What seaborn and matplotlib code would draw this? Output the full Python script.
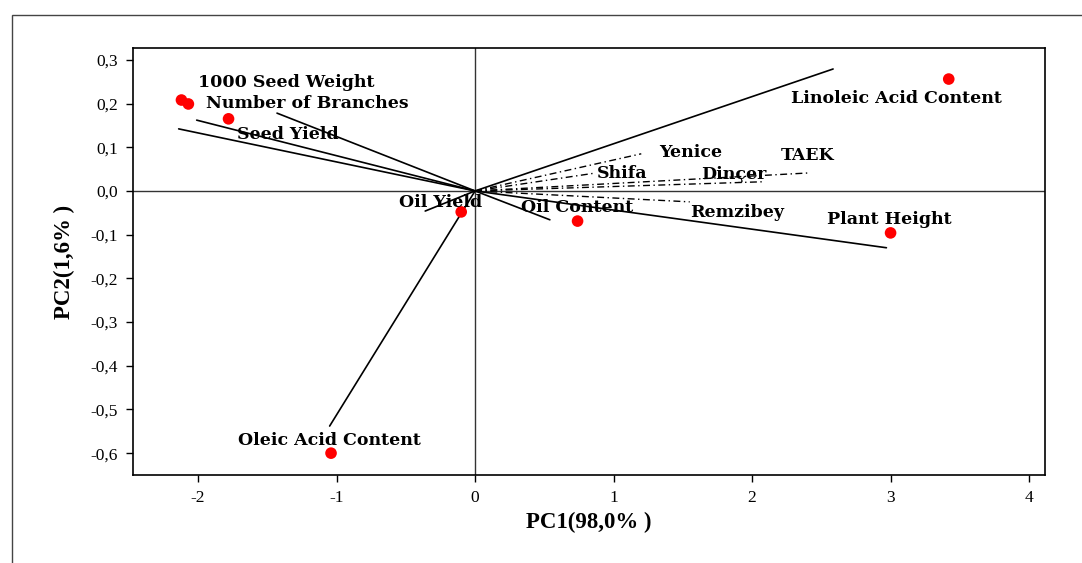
import numpy as np
import pandas as pd
import matplotlib
matplotlib.use("Agg")
import matplotlib.pyplot as plt
from matplotlib.ticker import FuncFormatter
from matplotlib.patches import Rectangle
import seaborn as sns

# trait scores (red points)
trait_names = ['1000 Seed Weight', 'Number of Branches', 'Seed Yield', 'Oil Yield',
               'Oil Content', 'Linoleic Acid Content', 'Plant Height', 'Oleic Acid Content']
point_x = [-2.12, -2.07, -1.78, -0.10, 0.74, 3.42, 3.00, -1.04]
point_y = [0.208, 0.199, 0.165, -0.048, -0.069, 0.256, -0.096, -0.600]

# trait vectors (solid lines from origin)
vec_x = [-1.43, -2.01, -2.14, -0.36, 0.54, 2.585, 2.97, -1.05]
vec_y = [0.178, 0.162, 0.142, -0.046, -0.066, 0.279, -0.130, -0.538]

# trait label positions
lab_x = [-1.36, -1.21, -1.35, -0.25, 0.74, 3.04, 2.99, -1.05]
lab_y = [0.247, 0.199, 0.128, -0.027, -0.037, 0.211, -0.066, -0.572]

# cultivar vectors (dash-dot lines)
cultivars = ['Yenice', 'Shifa', 'Dinçer', 'TAEK', 'Remzibey']
cult_x = [1.20, 0.87, 2.08, 2.40, 1.55]
cult_y = [0.085, 0.041, 0.021, 0.041, -0.025]
cult_lab_x = [1.56, 1.06, 1.87, 2.40, 1.89]
cult_lab_y = [0.089, 0.039, 0.037, 0.080, -0.050]

x_ticks = [-2, -1, 0, 1, 2, 3, 4]
y_ticks = [0.3, 0.2, 0.1, 0.0, -0.1, -0.2, -0.3, -0.4, -0.5, -0.6]

sns.set_style("white")
plt.rcParams['font.family'] = ['Liberation Serif']
plt.rcParams['axes.unicode_minus'] = False
plt.rcParams['text.color'] = 'black'
plt.rcParams['axes.labelcolor'] = 'black'

fig = plt.figure(figsize=(10.82, 5.63), dpi=100)
ax = fig.add_axes([0.1229, 0.1563, 0.8429, 0.7584])

# outer frame
fig.patches.append(Rectangle((12 / 1082, -0.2), 1.5, 1.2 - 15 / 563, transform=fig.transFigure,
                             fill=False, edgecolor='#444444', linewidth=1.0, zorder=0))

ax.axhline(0, color='#333333', lw=1.0, zorder=1)
ax.axvline(0, color='#333333', lw=1.0, zorder=1)

for xe, ye in zip(vec_x, vec_y):
    ax.plot([0, xe], [0, ye], color='black', lw=1.2, zorder=2)
for xe, ye in zip(cult_x, cult_y):
    ax.plot([0, xe], [0, ye], color='black', lw=1.0, linestyle=(0, (5, 2.5, 1, 2.5)), zorder=2)

pts = pd.DataFrame({'PC1': point_x, 'PC2': point_y, 'trait': trait_names})
sns.scatterplot(data=pts, x='PC1', y='PC2', color='red', s=70, edgecolor='none',
                ax=ax, zorder=3, legend=False)

lab_font = dict(family='DejaVu Serif', fontsize=12.5, fontweight='bold', color='black')
for name, tx, ty in zip(trait_names, lab_x, lab_y):
    ax.text(tx, ty, name, ha='center', va='center', zorder=4, **lab_font)
for name, tx, ty in zip(cultivars, cult_lab_x, cult_lab_y):
    ax.text(tx, ty, name, ha='center', va='center', zorder=4, **lab_font)

ax.set_xlim(-2.47, 4.115)
ax.set_ylim(-0.65, 0.327)
ax.set_xticks(x_ticks)
ax.set_yticks(y_ticks)
ax.yaxis.set_major_formatter(FuncFormatter(lambda v, p: f"{v:.1f}".replace('.', ',')))
ax.xaxis.set_major_formatter(FuncFormatter(lambda v, p: f"{v:g}"))
ax.tick_params(axis='both', direction='out', length=5, width=1, labelsize=12.5, colors='black',
               bottom=True, left=True, pad=6, labelfontfamily='Liberation Serif')
for s in ax.spines.values():
    s.set_color('black')
    s.set_linewidth(1.2)

ax.set_xlabel('PC1(98,0% )', fontsize=16.5, fontweight='bold', labelpad=4, family='Liberation Serif')
ax.set_ylabel('PC2(1,6% )', fontsize=16.5, fontweight='bold', labelpad=11, family='Liberation Serif')

fig.savefig('out.png', dpi=100)
